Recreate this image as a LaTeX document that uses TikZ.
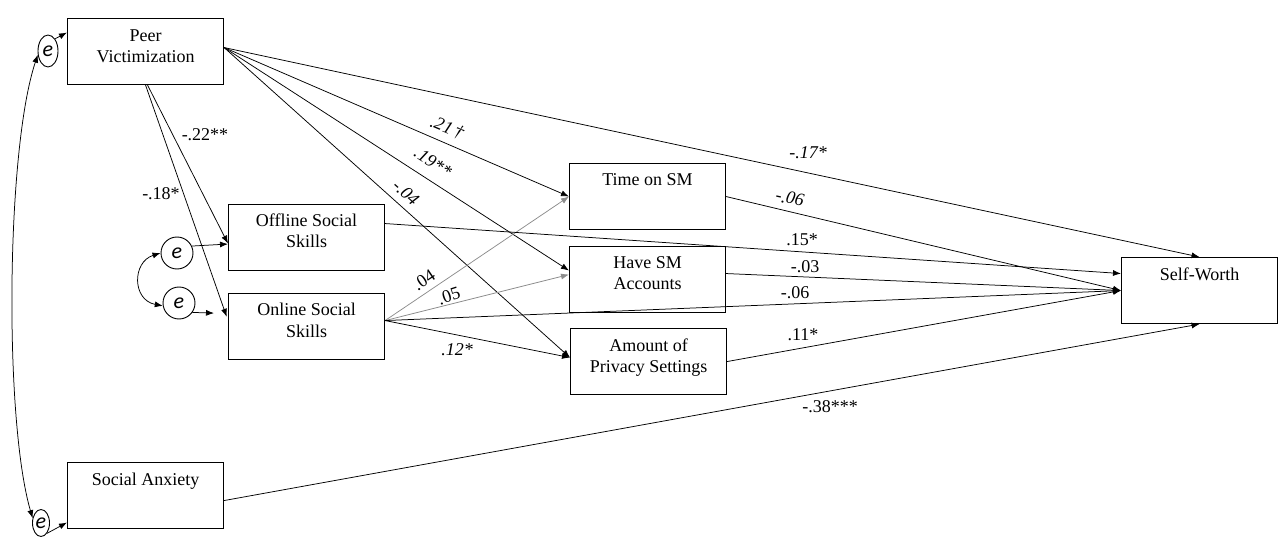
\documentclass[tikz,border=0pt]{standalone}
\usepackage{fontspec}
\setmainfont{Liberation Serif}
\newfontfamily\efont{Carlito}
\usetikzlibrary{arrows.meta,shapes.geometric}

\begin{document}
\begin{tikzpicture}[x=1pt,y=-1pt,
  every node/.style={font=\fontsize{18}{21}\selectfont},
  bx/.style={draw, line width=1.1pt, anchor=north west, minimum width=156pt,
    minimum height=66pt, inner sep=0pt},
  bt/.style={anchor=base, inner sep=0pt},
  err/.style={draw, line width=0.9pt, ellipse, inner sep=0pt,
    font=\efont\itshape\fontsize{22}{22}\selectfont},
  lk/.style={line width=0.75pt, -{Latex[length=8pt,width=6pt]}},
  glk/.style={lk, draw=black!45, -{Latex[length=8pt,width=6pt,fill=black!45]}},
  dlk/.style={line width=0.75pt, {Latex[length=8pt,width=6pt]}-{Latex[length=8pt,width=6pt]}},
  coef/.style={inner sep=0pt},
  icoef/.style={coef, font=\itshape\fontsize{18}{21}\selectfont}
]
\useasboundingbox (0,0) rectangle (1283,540);

% variables
\node[bx] (pv) at (67,18) {};
\node[bx] (ss) at (228,204) {};
\node[bx] (on) at (228,293) {};
\node[bx] (tm) at (569,163) {};
\node[bx] (hs) at (569,246) {};
\node[bx] (ap) at (570,328) {};
\node[bx] (sw) at (1121,257) {};
\node[bx] (sa) at (67,462) {};

\node[bt] (pvt) at ([yshift=-24pt]pv.north) {\parbox[t]{150pt}{\centering Peer\\Victimization}};
\node[bt] (sst) at ([yshift=-23pt]ss.north) {\parbox[t]{150pt}{\centering Offline Social\\Skills}};
\node[bt] (ont) at ([yshift=-23pt]on.north) {\parbox[t]{150pt}{\centering Online Social\\Skills}};
\node[bt] (tmt) at ([yshift=-23pt]tm.north) {\parbox[t]{150pt}{\centering Time on SM}};
\node[bt] (hst) at ([yshift=-23pt]hs.north) {\parbox[t]{150pt}{\centering Have SM\\Accounts}};
\node[bt] (apt) at ([yshift=-23pt]ap.north) {\parbox[t]{150pt}{\centering Amount of\\Privacy Settings}};
\node[bt] (swt) at ([yshift=-23pt]sw.north) {\parbox[t]{150pt}{\centering Self-Worth}};
\node[bt] (sat) at ([yshift=-23pt]sa.north) {\parbox[t]{150pt}{\centering Social Anxiety}};

% error terms
\node[err, minimum width=20pt, minimum height=32pt] (e0) at (48,51) {e};
\node[err, minimum width=17pt, minimum height=27pt] (e3) at (41,523) {e};
\node[err, circle, minimum size=32pt] (e1) at (177,253) {e};
\node[err, circle, minimum size=32pt] (e2) at (179,303) {e};

\draw[lk] (e0.60) -- ([yshift=19pt]pv.west);
\draw[lk] (e3.-60) -- ([yshift=-27pt]sa.west);
\draw[dlk] (e3.150) .. controls (4,420) and (6,150) .. (e0.200);
\draw[dlk] (e1.west) .. controls (132,262) and (132,300) .. (e2.190);
\draw[lk] (e1.25) -- ([yshift=-6.5pt]ss.west);
\draw[lk, shorten >=14pt] (e2.-35) -- ([yshift=13pt]on.west);

% paths from peer victimization
\draw[lk] ([xshift=2pt]pv.south) -- ([yshift=-6pt]ss.west);
\draw[lk, shorten >=4pt] (pv.south) -- ([yshift=6pt]on.west);
\draw[lk] ([yshift=4pt]pv.east) -- (tm.west);
\draw[lk] ([yshift=4pt]pv.east) -- ([yshift=9pt]hs.west);
\draw[lk] ([yshift=4pt]pv.east) -- ([yshift=4pt]ap.west);
\draw[lk] ([yshift=4pt]pv.east) -- (sw.north);

% paths from online social skills
\draw[glk] ([yshift=6pt]on.east) -- (tm.west);
\draw[glk] ([yshift=6pt]on.east) -- ([yshift=5pt]hs.west);
\draw[lk] ([yshift=6pt]on.east) -- ([yshift=4pt]ap.west);
\draw[lk] ([yshift=6pt]on.east) -- (sw.west);

% paths to self-worth
\draw[lk] ([yshift=14pt]ss.east) -- ([yshift=17pt]sw.west);
\draw[lk] (tm.east) -- (sw.west);
\draw[lk] ([yshift=6pt]hs.east) -- (sw.west);
\draw[lk] (ap.east) -- (sw.west);
\draw[lk] ([yshift=-5pt]sa.east) -- (sw.south);

% coefficients
\node[coef] (c22) at (205,135) {-.22**};
\node[coef] (c18) at (161,194) {-.18*};
\node[icoef, rotate=-23] (c21) at (447,128) {.21\,†};
\node[icoef, rotate=-33] (c19) at (433,162) {.19**};
\node[icoef, rotate=-42] (c04n) at (406,193) {-.04};
\node[icoef] (c17) at (808,153) {-.17*};
\node[icoef, rotate=-12] (c06t) at (790,198) {-.06};
\node[coef] (c15) at (802,240) {.15*};
\node[coef] (c03) at (805,267) {-.03};
\node[coef] (c06o) at (795,293) {-.06};
\node[coef] (c11) at (803,335) {.11*};
\node[coef] (c38) at (830,407) {-.38***};
\node[coef, rotate=34] (c04o) at (424,280) {.04};
\node[coef, rotate=18] (c05) at (449,296) {.05};
\node[icoef] (c12) at (457,350) {.12*};
\end{tikzpicture}
\end{document}
